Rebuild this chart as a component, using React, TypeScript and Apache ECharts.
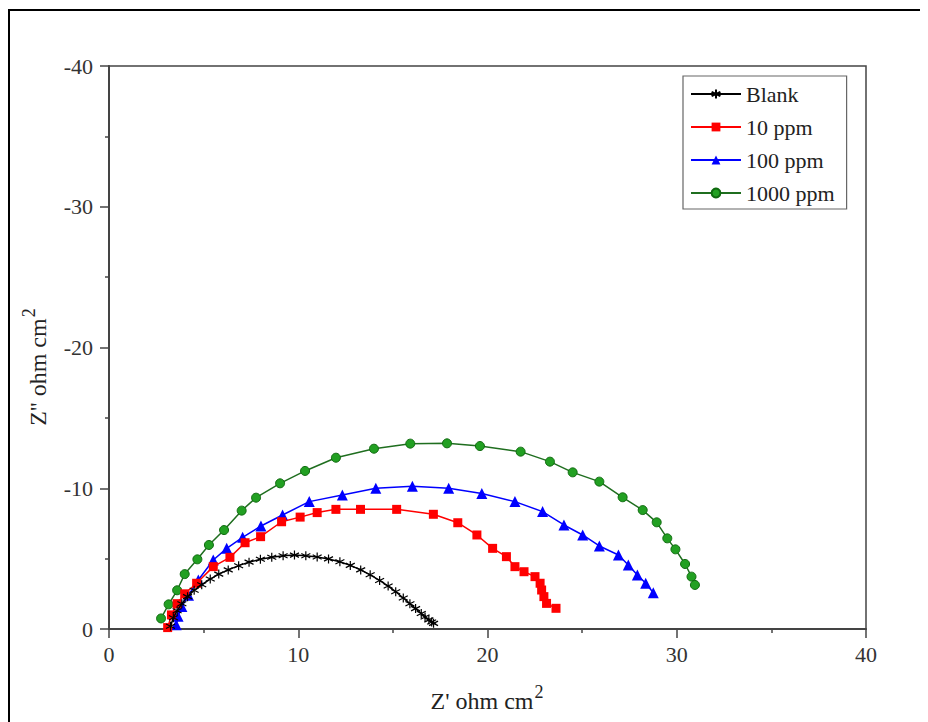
import React, { useEffect, useRef } from "react";
import * as echarts from "echarts";

const seriesNames = ["Blank", "10 ppm", "100 ppm", "1000 ppm"];

const blankX = [3.25, 3.4, 3.6, 3.85, 4.15, 4.5, 4.9, 5.35, 5.8, 6.3, 6.85, 7.4, 8.0, 8.6, 9.2, 9.8, 10.4, 11.0, 11.6, 12.2, 12.75, 13.3, 13.8, 14.3, 14.75, 15.15, 15.55, 15.9, 16.2, 16.5, 16.7, 16.9, 17.05, 17.15];
const blankY = [-0.2, -0.8, -1.3, -1.8, -2.3, -2.75, -3.15, -3.55, -3.9, -4.2, -4.5, -4.75, -4.95, -5.1, -5.2, -5.25, -5.2, -5.12, -4.98, -4.78, -4.52, -4.2, -3.85, -3.45, -3.05, -2.65, -2.2, -1.8, -1.45, -1.1, -0.85, -0.65, -0.5, -0.4];

const ppm10X = [3.1, 3.3, 3.6, 4.0, 4.63, 5.51, 6.39, 7.19, 8.01, 9.12, 10.1, 11.0, 11.99, 13.29, 15.2, 17.14, 18.43, 19.44, 20.27, 21.0, 21.45, 21.93, 22.51, 22.78, 22.86, 22.98, 23.12, 23.62];
const ppm10Y = [-0.1, -1.0, -1.8, -2.5, -3.25, -4.43, -5.09, -6.13, -6.56, -7.62, -7.95, -8.27, -8.5, -8.5, -8.5, -8.15, -7.55, -6.68, -5.73, -5.14, -4.43, -4.07, -3.72, -3.25, -2.77, -2.3, -1.82, -1.47];

const ppm100X = [3.55, 3.65, 3.85, 4.2, 4.72, 5.51, 6.22, 7.06, 8.03, 9.17, 10.58, 12.33, 14.1, 16.03, 17.95, 19.7, 21.45, 22.91, 24.04, 25.03, 25.91, 26.92, 27.44, 27.92, 28.36, 28.76];
const ppm100Y = [-0.3, -0.9, -1.6, -2.4, -3.48, -4.9, -5.73, -6.51, -7.32, -8.1, -9.05, -9.52, -10.0, -10.15, -10.0, -9.62, -9.05, -8.34, -7.39, -6.68, -5.9, -5.26, -4.55, -3.84, -3.25, -2.58];

const ppm1000X = [2.75, 3.15, 3.6, 4.0, 4.67, 5.28, 6.08, 7.01, 7.77, 9.04, 10.36, 11.99, 14.0, 15.92, 17.86, 19.6, 21.75, 23.3, 24.5, 25.91, 27.14, 28.2, 28.94, 29.5, 29.93, 30.44, 30.78, 30.96];
const ppm1000Y = [-0.75, -1.75, -2.75, -3.9, -4.95, -5.97, -7.03, -8.41, -9.33, -10.35, -11.23, -12.17, -12.81, -13.17, -13.19, -13.0, -12.6, -11.89, -11.13, -10.47, -9.36, -8.45, -7.58, -6.44, -5.66, -4.62, -3.72, -3.13];

const xTicks = [0, 10, 20, 30, 40];
const yTicks = [-40, -30, -20, -10, 0];

const xTitle = "Z' ohm cm";
const yTitle = "Z'' ohm cm";
const titleSup = "2";

const FONT = "serif";

const zip = (xs: number[], ys: number[]) => xs.map((x, i) => [x, ys[i]]);

const supStyle: React.CSSProperties = { fontSize: 18, position: "relative", top: "-0.6em", verticalAlign: "baseline", marginLeft: 1 };

export default function App() {
  const ref = useRef<HTMLDivElement>(null);
  useEffect(() => {
    if (!ref.current) return;
    const chart = echarts.init(ref.current, undefined, { renderer: "svg" });
    const asterisk = "path://M5,0L5,10M0.67,2.5L9.33,7.5M0.67,7.5L9.33,2.5";
    const option: any = {
      animation: false,
      textStyle: { fontFamily: FONT },
      grid: { left: 109, right: 62, top: 66, bottom: 93, show: true, borderColor: "#444", borderWidth: 1.5 },
      xAxis: {
        type: "value",
        min: xTicks[0],
        max: xTicks[xTicks.length - 1],
        interval: 10,
        splitLine: { show: false },
        axisLine: { show: true, onZero: false, lineStyle: { color: "#444", width: 2 } },
        axisTick: { show: true, inside: false, length: 9, lineStyle: { color: "#444", width: 1.5 } },
        minorTick: { show: true, splitNumber: 2, length: 4, lineStyle: { color: "#444", width: 1.5 } },
        axisLabel: { margin: 14, fontSize: 22, fontFamily: FONT, color: "#333" },
      },
      yAxis: {
        type: "value",
        min: yTicks[0],
        max: yTicks[yTicks.length - 1],
        interval: 10,
        inverse: true,
        splitLine: { show: false },
        axisLine: { show: true, onZero: false, lineStyle: { color: "#444", width: 2 } },
        axisTick: { show: true, inside: false, length: 9, lineStyle: { color: "#444", width: 1.5 } },
        minorTick: { show: true, splitNumber: 2, length: 4, lineStyle: { color: "#444", width: 1.5 } },
        axisLabel: { margin: 16, fontSize: 22, fontFamily: FONT, color: "#333" },
      },
      legend: {
        left: 683,
        top: 76,
        orient: "vertical",
        itemWidth: 50,
        itemHeight: 11,
        itemGap: 11,
        padding: [7, 12, 5, 7],
        borderColor: "#666",
        borderWidth: 1.2,
        backgroundColor: "#fff",
        textStyle: { fontSize: 22, fontFamily: FONT, color: "#222" },
        data: seriesNames,
      },
      series: [
        {
          name: seriesNames[0],
          type: "line",
          data: zip(blankX, blankY),
          symbol: asterisk,
          symbolSize: 9,
          lineStyle: { color: "#000", width: 1.5 },
          itemStyle: { color: "#000", borderColor: "#000", borderWidth: 1.2 },
          z: 5,
        },
        {
          name: seriesNames[1],
          type: "line",
          data: zip(ppm10X, ppm10Y),
          symbol: "rect",
          symbolSize: 9,
          lineStyle: { color: "#ff0000", width: 1.5 },
          itemStyle: { color: "#ff0000" },
          z: 4,
        },
        {
          name: seriesNames[2],
          type: "line",
          data: zip(ppm100X, ppm100Y),
          symbol: "triangle",
          symbolSize: 11,
          lineStyle: { color: "#0000ff", width: 1.5 },
          itemStyle: { color: "#0000ff" },
          z: 3,
        },
        {
          name: seriesNames[3],
          type: "line",
          data: zip(ppm1000X, ppm1000Y),
          symbol: "circle",
          symbolSize: 9,
          lineStyle: { color: "#1f6e1f", width: 1.5 },
          itemStyle: { color: "#22a022", borderColor: "#0f6a0f", borderWidth: 1 },
          z: 2,
        },
      ],
      graphic: [
        { type: "line", shape: { x1: 8, y1: 10, x2: 928, y2: 10 }, style: { stroke: "#000", lineWidth: 2 } },
        { type: "line", shape: { x1: 9, y1: 10, x2: 9, y2: 722 }, style: { stroke: "#000", lineWidth: 2 } },
      ],
    };
    chart.setOption(option);
    return () => chart.dispose();
  }, []);
  return (
    <div style={{ margin: "-8px 0 0 -8px", width: 928, height: 722, position: "relative", fontFamily: FONT, background: "#fff" }}>
      <div ref={ref} style={{ width: 928, height: 722 }} />
      <div
        style={{
          position: "absolute",
          left: 487,
          top: 702,
          transform: "translate(-50%, -50%)",
          fontFamily: FONT,
          fontSize: 24,
          lineHeight: "24px",
          color: "#222",
          whiteSpace: "nowrap",
        }}
      >
        {xTitle}
        <span style={supStyle}>{titleSup}</span>
      </div>
      <div
        style={{
          position: "absolute",
          left: 39,
          top: 367,
          transform: "translate(-50%, -50%) rotate(-90deg)",
          fontFamily: FONT,
          fontSize: 24,
          lineHeight: "24px",
          color: "#222",
          whiteSpace: "nowrap",
        }}
      >
        {yTitle}
        <span style={supStyle}>{titleSup}</span>
      </div>
    </div>
  );
}
